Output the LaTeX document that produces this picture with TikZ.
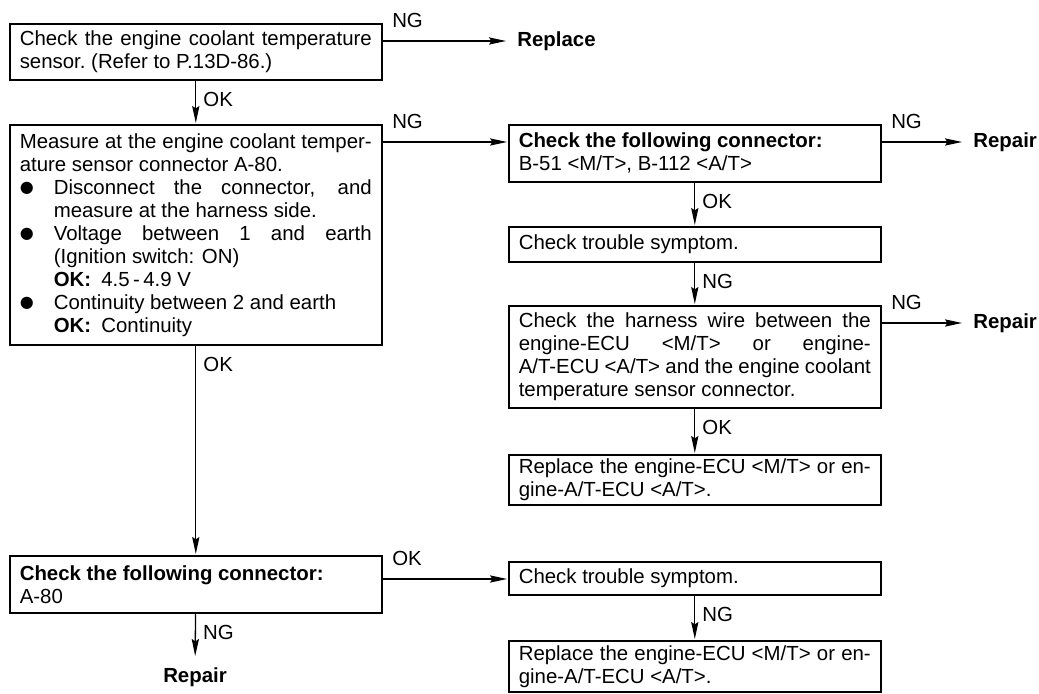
\documentclass[tikz,border=0pt]{standalone}
\usepackage{fontspec}
\setmainfont{Liberation Sans}
\newfontfamily\dotfont{DejaVu Sans}
\usetikzlibrary{arrows.meta}
\setlength{\parindent}{0pt}
\tolerance=10000
\hbadness=10000
\newcommand{\dotitem}{\par\hangindent=17pt\hangafter=1\noindent
	\makebox[17pt][l]{\raisebox{0.8pt}{\dotfont\fontsize{8}{8}\selectfont ●}}}

\tikzset{
	txt/.style={font=\fontsize{10.2}{11.5}\selectfont},
	box/.style={txt, draw, line width=0.8pt, anchor=north west, text width=176pt,
		inner xsep=5pt, inner ysep=2pt, align=justify},
	arr/.style={-{Stealth[length=8.5pt, width=3.6pt, inset=1.2pt]}, line width=0.65pt, shorten >=0.5pt},
	vtag/.style={txt, anchor=north west, inner sep=0pt, xshift=3.5pt, yshift=-5.5pt},
	htag/.style={txt, anchor=south west, inner sep=0pt, xshift=4.5pt, yshift=6.5pt},
	endnote/.style={font=\fontsize{10.2}{11.5}\selectfont\bfseries, inner sep=5pt}
}

\begin{document}
\begin{tikzpicture}[x=0.5pt, y=-0.5pt]
	\useasboundingbox (0,0) rectangle (1039,694);

	\node[box, minimum height=28pt] (sensor) at (9,23)
		{Check the engine coolant temperature\linebreak sensor.\ (Refer to P.13D-86.)};
	\node[box, minimum height=110pt] (measure) at (9,124)
		{Measure at the engine coolant temper-\linebreak ature sensor connector A-80.
		\dotitem Disconnect the connector, and\linebreak measure at the harness side.
		\dotitem Voltage between 1 and earth\linebreak (Ignition switch: ON)\newline
			\textbf{OK:}\enspace 4.5\,-\,4.9 V
		\dotitem Continuity between 2 and earth\newline \textbf{OK:}\enspace Continuity\par};
	\node[box, minimum height=28.5pt] (plug) at (9,555)
		{\textbf{Check\ the\ following\ connector:}\newline A-80};

	\node[box, minimum height=28.5pt] (conn) at (508,124)
		{\textbf{Check\ the\ following\ connector:}\newline B-51\ <M/T>,\ B-112\ <A/T>};
	\node[box, minimum height=17.5pt] (trouble) at (508,226) {Check\ trouble\ symptom.};
	\node[box, minimum height=51pt] (harness) at (508,305)
		{Check the harness wire between the\linebreak engine-ECU <M/T> or engine-\linebreak
		A/T-ECU <A/T> and the engine coolant\linebreak temperature sensor connector.};
	\node[box, minimum height=24pt] (ecu) at (508,454)
		{Replace the engine-ECU <M/T> or en-\linebreak gine-A/T-ECU\ <A/T>.};
	\node[box, minimum height=16.5pt] (symptom) at (508,561) {Check\ trouble\ symptom.};
	\node[box, minimum height=25.5pt] (ecunew) at (508,640)
		{Replace the engine-ECU <M/T> or en-\linebreak gine-A/T-ECU\ <A/T>.};

	\node[endnote, anchor=west] (replace) at (507,41) {Replace};
	\node[endnote, anchor=west] (repairA) at (963,142) {Repair};
	\node[endnote, anchor=west] (repairB) at (963,323) {Repair};
	\node[endnote, anchor=north] (repairC) at (195,657) {Repair};

	\draw[arr] ([yshift=-9pt]sensor.north east) -- node[htag, at start] {NG} (replace.west);
	\draw[arr] (sensor) -- node[vtag, at start] {OK} (measure);
	\draw[arr] ([yshift=-9pt]measure.north east) -- node[htag, at start] {NG} ([yshift=-9pt]conn.north west);
	\draw[arr] ([yshift=-9pt]conn.north east) -- node[htag, at start] {NG} (repairA.west);
	\draw[arr] (conn) -- node[vtag, at start] {OK} (trouble);
	\draw[arr] (trouble) -- node[vtag, at start] {NG} (harness);
	\draw[arr] ([yshift=-9pt]harness.north east) -- node[htag, at start] {NG} (repairB.west);
	\draw[arr] (harness) -- node[vtag, at start] {OK} (ecu);
	\draw[arr] (measure) -- node[vtag, at start] {OK} (plug);

	\coordinate (plugout) at ([yshift=-9pt]symptom.north west);
	\draw[arr] (plug.east |- plugout) -- node[htag, at start] {OK} (plugout);
	\draw[arr] (plug) -- node[vtag, at start] {NG} (repairC);
	\draw[arr] (symptom) -- node[vtag, at start] {NG} (ecunew);
\end{tikzpicture}
\end{document}
